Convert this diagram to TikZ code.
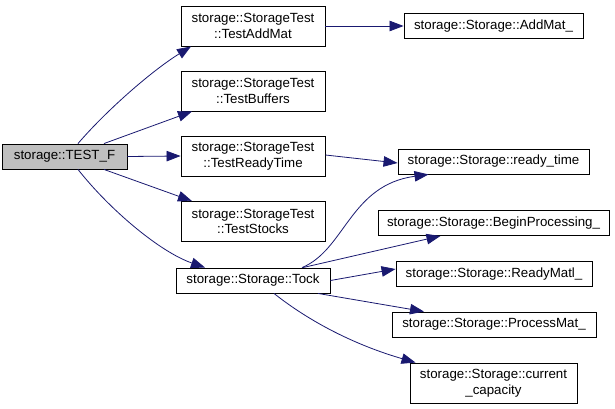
\documentclass[tikz,border=0pt]{standalone}
\usepackage{fontspec}
\setmainfont{Liberation Sans}
\usepackage{xcolor}
\definecolor{RootColor}{RGB}{191,191,191}
\definecolor{EdgeColor}{RGB}{25,25,112}
\usetikzlibrary{positioning, arrows.meta}

\begin{document}
\begin{tikzpicture}[
    x=1pt, y=-1pt,
    every node/.style={font=\fontsize{13.3}{15.5}\selectfont},
    func/.style={rectangle, draw=black, line width=0.9pt, fill=white, inner sep=0pt, align=center, minimum height=25pt},
    twoline/.style={func, minimum height=40pt},
    root/.style={func, fill=RootColor},
    call/.style={-{Triangle[length=14pt, width=10.5pt]}, draw=EdgeColor, line width=0.8pt},
]
\useasboundingbox (0,0) rectangle (615,409);

% Root
\node[root, minimum width=125pt] (testf) at (64.5,156.5) {storage::TEST\_F};

% Tests
\node[twoline, minimum width=144pt] (addtest) at (253,26) {storage::StorageTest\\::TestAddMat};
\node[twoline, minimum width=144pt] (buftest) at (253,91) {storage::StorageTest\\::TestBuffers};
\node[twoline, minimum width=144pt] (readytest) at (253,156) {storage::StorageTest\\::TestReadyTime};
\node[twoline, minimum width=144pt] (stocktest) at (253,221.5) {storage::StorageTest\\::TestStocks};
\node[func, minimum width=154pt] (tock) at (253,280.5) {storage::Storage::Tock};

% Storage members
\node[func, minimum width=179pt] (addmat) at (493.5,26) {storage::Storage::AddMat\_};
\node[func, minimum width=191pt] (readytime) at (493.5,161.5) {storage::Storage::ready\_time};
\node[func, minimum width=231pt] (beginproc) at (493.5,223) {storage::Storage::BeginProcessing\_};
\node[func, minimum width=196pt] (readymatl) at (494,274) {storage::Storage::ReadyMatl\_};
\node[func, minimum width=204pt] (processmat) at (494,324.5) {storage::Storage::ProcessMat\_};
\node[twoline, minimum width=167pt] (capacity) at (493.5,383) {storage::Storage::current\\\_capacity};

% Calls from root
\draw[call] ([xshift=13.5pt]testf.north) .. controls (105,112) and (150,72) .. ([xshift=-62pt]addtest.south);
\draw[call] ([xshift=39.5pt]testf.north) -- ([xshift=-61pt]buftest.south);
\draw[call] (testf.east) -- (readytest.west);
\draw[call] ([xshift=39.5pt]testf.south) -- ([xshift=-61pt]stocktest.north);
\draw[call] ([xshift=13.5pt]testf.south) .. controls (110,210) and (160,252) .. ([xshift=-48pt]tock.north);

% Calls from tests
\draw[call] (addtest.east) -- (addmat.west);
\draw[call] ([yshift=1pt]readytest.east) -- ([yshift=-1.5pt]readytime.west);

% Calls from Tock
\draw[call] ([xshift=49pt]tock.north) .. controls (345,250) and (350,185) .. ([xshift=-65pt]readytime.south);
\draw[call] ([xshift=50pt]tock.north) -- ([xshift=-53pt]beginproc.south);
\draw[call] (tock.east) -- ([yshift=5pt]readymatl.west);
\draw[call] ([xshift=65pt]tock.south) -- ([xshift=-70pt]processmat.north);
\draw[call] ([xshift=21pt]tock.south) .. controls (310,322) and (355,345) .. ([xshift=-78pt]capacity.north);

\end{tikzpicture}
\end{document}
